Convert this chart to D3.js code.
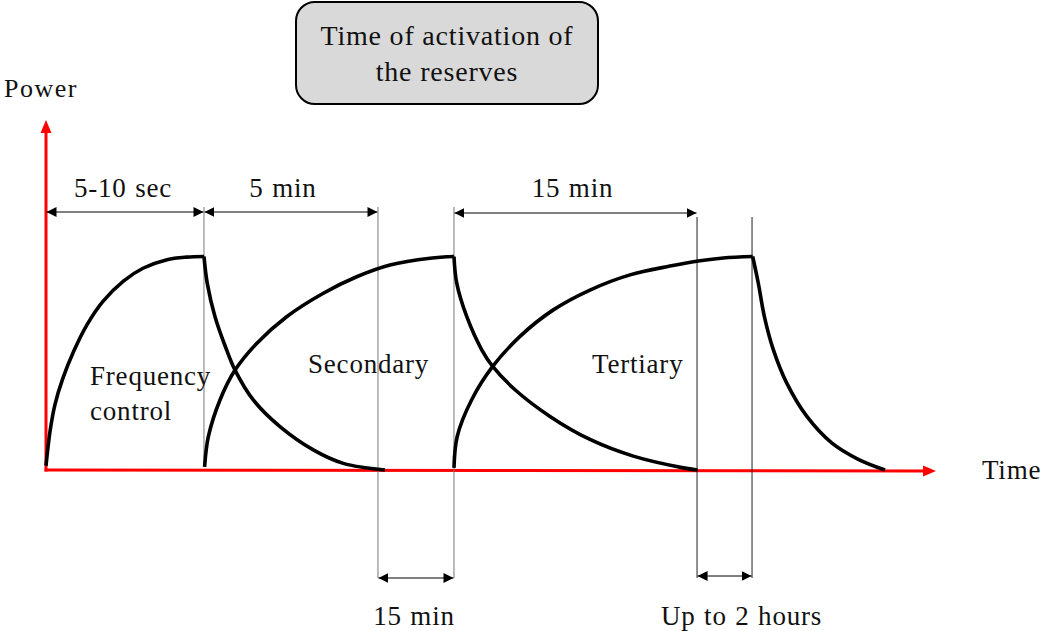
<!DOCTYPE html>
<html>
  <head>
    <meta charset="utf-8">
    <script src="https://d3js.org/d3.v7.min.js"></script>
    <style>
      body { margin: 0; background: #fff; }
      svg text {
        font-family: "Liberation Serif", "Times New Roman", serif;
        fill: #111;
        letter-spacing: 0.8px;
      }
    </style>
  </head>
  <body>
    <script>
      // time = % of the time axis, power = share of the plateau
      var freqRiseT  = [0, 0.45, 1.0, 1.9, 3.1, 4.6, 6.4, 8.7, 10.9, 13.6, 15.8, 17.75];
      var freqRiseP  = [0.02, 0.18, 0.305, 0.43, 0.555, 0.68, 0.79, 0.885, 0.945, 0.985, 0.997, 1.0];
      var freqFallT  = [17.75, 18.12, 18.99, 20.3, 21.24, 23.29, 26.29, 30.03, 33.4, 38.09];
      var freqFallP  = [1.0, 0.874, 0.718, 0.562, 0.468, 0.328, 0.203, 0.094, 0.031, 0];
      var secRiseT   = [17.82, 18.24, 19.55, 21.24, 23.67, 27.04, 31.16, 34.91, 38.65, 43.15, 45.84];
      var secRiseP   = [0.015, 0.156, 0.328, 0.468, 0.593, 0.718, 0.828, 0.905, 0.96, 0.992, 1.0];
      var secFallT   = [45.84, 46.15, 47.27, 48.96, 50.19, 52.7, 56.63, 61.12, 65.99, 71.61, 73.2];
      var secFallP   = [1.0, 0.875, 0.719, 0.563, 0.485, 0.376, 0.251, 0.143, 0.065, 0.01, 0];
      var terRiseT   = [45.84, 46.21, 47.83, 50.19, 53.26, 57.0, 61.12, 65.62, 70.11, 73.48, 76.1, 79.4];
      var terRiseP   = [0.01, 0.158, 0.329, 0.485, 0.626, 0.75, 0.843, 0.914, 0.955, 0.98, 0.993, 1.0];
      var terFallT   = [79.4, 80.03, 80.71, 81.72, 83.22, 85.47, 88.28, 91.27, 94.27];
      var terFallP   = [1.0, 0.876, 0.72, 0.564, 0.408, 0.252, 0.127, 0.05, 0];

      // activation intervals
      var topSpanLabels = ["5-10 sec", "5 min", "15 min"];
      var topSpanFrom   = [0, 17.75, 45.84];
      var topSpanTo     = [17.75, 37.3, 73.15];
      var lowSpanLabels = ["15 min", "Up to 2 hours"];
      var lowSpanFrom   = [37.3, 73.15];
      var lowSpanTo     = [45.84, 79.33];

      var titleLines = ["Time of activation of", "the reserves"];
      var areaLabels = [["Frequency", "control"], ["Secondary"], ["Tertiary"]];

      var width = 1042,
          height = 631;

      var svg = d3.select("body").append("svg")
                  .attr("width", width)
                  .attr("height", height);

      var x = d3.scaleLinear().domain([0, 100]).range([46, 936]);
      var y = d3.scaleLinear().domain([0, 1]).range([470, 256.5]);

      // arrow head for the thin interval arrows
      svg.append("defs").append("marker")
          .attr("id", "head")
          .attr("viewBox", "0 -5 10 10")
          .attr("refX", 10)
          .attr("refY", 0)
          .attr("markerUnits", "userSpaceOnUse")
          .attr("markerWidth", 10)
          .attr("markerHeight", 10)
          .attr("orient", "auto-start-reverse")
        .append("path")
          .attr("d", "M0,-5L10,0L0,5Z")
          .attr("fill", "#000");

      // title box
      var box = svg.append("g");
      box.append("rect")
          .attr("x", 296).attr("y", 2)
          .attr("width", 302).attr("height", 102)
          .attr("rx", 19)
          .attr("fill", "#d9d9d9")
          .attr("stroke", "#000")
          .attr("stroke-width", 2);
      box.selectAll("text")
          .data(titleLines)
          .enter().append("text")
          .attr("x", 447)
          .attr("y", function(d, i) { return 45 + i * 36; })
          .attr("text-anchor", "middle")
          .style("font-size", "28px")
          .text(function(d) { return d; });

      // red axes
      var axisY0 = y(0), axisTop = 120, axisRight = x(100);
      svg.append("line")
          .attr("x1", x(0)).attr("y1", axisY0 + 1.5)
          .attr("x2", x(0)).attr("y2", axisTop + 10)
          .attr("stroke", "#ff0000").attr("stroke-width", 3);
      svg.append("path")
          .attr("d", "M" + x(0) + "," + axisTop + "L" + (x(0) - 5.5) + "," + (axisTop + 13) + "L" + (x(0) + 5.5) + "," + (axisTop + 13) + "Z")
          .attr("fill", "#ff0000");
      svg.append("line")
          .attr("x1", x(0) - 1.5).attr("y1", axisY0)
          .attr("x2", axisRight - 10).attr("y2", axisY0 + 1)
          .attr("stroke", "#ff0000").attr("stroke-width", 3);
      svg.append("path")
          .attr("d", "M" + axisRight + "," + (axisY0 + 1) + "L" + (axisRight - 13) + "," + (axisY0 - 4.5) + "L" + (axisRight - 13) + "," + (axisY0 + 6.5) + "Z")
          .attr("fill", "#ff0000");

      // thin vertical guides
      var guides = [
        {t: topSpanTo[0], y1: 207, y2: axisY0 - 3, c: "#777"},
        {t: topSpanTo[1], y1: 207, y2: 578, c: "#777"},
        {t: topSpanFrom[2], y1: 207, y2: 578, c: "#777"},
        {t: topSpanTo[2], y1: 217, y2: 578, c: "#222"},
        {t: lowSpanTo[1], y1: 217, y2: 578, c: "#222"}
      ];
      svg.append("g").selectAll("line")
          .data(guides)
          .enter().append("line")
          .attr("x1", function(d) { return x(d.t); })
          .attr("x2", function(d) { return x(d.t); })
          .attr("y1", function(d) { return d.y1; })
          .attr("y2", function(d) { return d.y2; })
          .attr("stroke", function(d) { return d.c; })
          .attr("stroke-width", 1);

      // interval arrows + labels
      function spans(labels, from, to, lineY, textY, dx) {
        var g = svg.append("g");
        labels.forEach(function(lab, i) {
          g.append("line")
              .attr("x1", x(from[i]) + 0.5).attr("x2", x(to[i]) - 0.5)
              .attr("y1", lineY[i]).attr("y2", lineY[i])
              .attr("stroke", "#000").attr("stroke-width", 1)
              .attr("marker-start", "url(#head)")
              .attr("marker-end", "url(#head)");
          g.append("text")
              .attr("x", (x(from[i]) + x(to[i])) / 2 + dx[i])
              .attr("y", textY)
              .attr("text-anchor", "middle")
              .style("font-size", "27px")
              .style("word-spacing", "1px")
              .text(lab);
        });
      }
      spans(topSpanLabels, topSpanFrom, topSpanTo, [212, 212, 213], 197, [-2, -8, -3]);
      spans(lowSpanLabels, lowSpanFrom, lowSpanTo, [578, 576], 625, [-2, 17]);

      // reserve curves
      var curves = [
        [freqRiseT, freqRiseP], [freqFallT, freqFallP],
        [secRiseT, secRiseP], [secFallT, secFallP],
        [terRiseT, terRiseP], [terFallT, terFallP]
      ].map(function(c) {
        return c[0].map(function(t, i) { return {t: t, p: c[1][i]}; });
      });

      var line = d3.line()
          .x(function(d) { return x(d.t); })
          .y(function(d) { return y(d.p); })
          .curve(d3.curveCatmullRom.alpha(0.5));

      svg.append("g").selectAll("path")
          .data(curves)
          .enter().append("path")
          .attr("d", line)
          .attr("fill", "none")
          .attr("stroke", "#000")
          .attr("stroke-width", 3.6)
          .attr("stroke-linejoin", "round");

      // area labels
      var areaPos = [[90, 385], [308, 373], [592, 373]];
      areaLabels.forEach(function(lines, i) {
        svg.append("g").selectAll("text")
            .data(lines)
            .enter().append("text")
            .attr("x", areaPos[i][0])
            .attr("y", function(d, j) { return areaPos[i][1] + j * 35; })
            .style("font-size", "27px")
            .text(function(d) { return d; });
      });

      // axis names
      svg.append("text")
          .attr("x", 4).attr("y", 97)
          .style("font-size", "26px")
          .style("letter-spacing", "1.5px")
          .text("Power");
      svg.append("text")
          .attr("x", 982).attr("y", 479)
          .style("font-size", "27px")
          .text("Time");
    </script>
  </body>
</html>
